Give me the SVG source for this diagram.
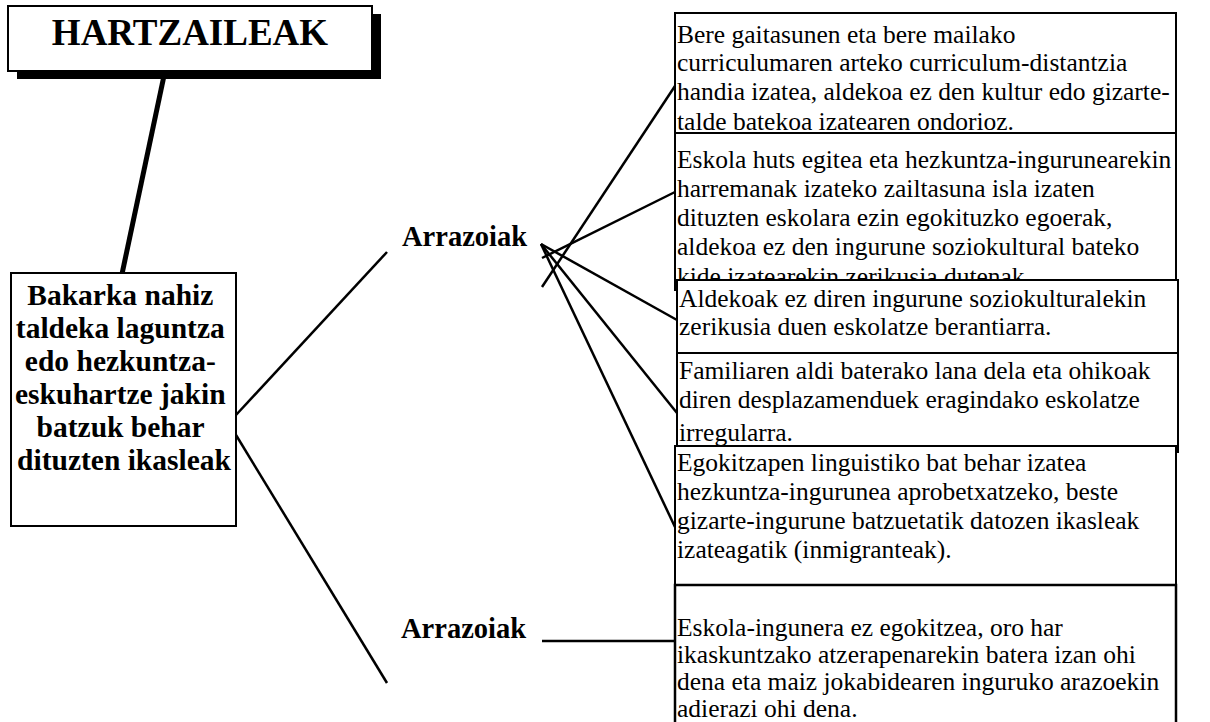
<svg xmlns="http://www.w3.org/2000/svg" width="1210" height="722" viewBox="0 0 1210 722">
<style>
.box{fill:#fff;stroke:#000;stroke-width:2}
.t{font-family:'Liberation Serif','Times New Roman',Times,serif;font-size:25.5px;fill:#000}
.b{font-family:'Liberation Serif','Times New Roman',Times,serif;font-weight:bold;fill:#000}
.ln{stroke:#000;stroke-width:2.5;fill:none}
</style>
<defs>
<clipPath id="c1"><rect x="675" y="13" width="501" height="119"/></clipPath>
<clipPath id="c2"><rect x="675" y="133" width="501" height="146"/></clipPath>
<clipPath id="c4"><rect x="677" y="353" width="501" height="92"/></clipPath>
</defs>
<rect width="1210" height="722" fill="#fff"/>
<g id="connectors">
<line class="ln" x1="165" y1="71" x2="122" y2="274" style="stroke-width:5"/>
<line class="ln" x1="236" y1="415" x2="387" y2="252"/>
<line class="ln" x1="236" y1="435" x2="387" y2="683"/>
<line class="ln" x1="542" y1="287" x2="675" y2="86"/>
<line class="ln" x1="542" y1="258" x2="675" y2="192"/>
<line class="ln" x1="541" y1="244" x2="677" y2="320"/>
<line class="ln" x1="541" y1="244" x2="677" y2="413"/>
<line class="ln" x1="541" y1="244" x2="675" y2="527"/>
<line class="ln" x1="542" y1="641" x2="675" y2="641"/>
</g>
<g id="hartzaileak">
<rect x="17" y="14" width="364" height="65" fill="#000"/>
<rect class="box" x="8" y="6" width="364" height="65"/>
<text class="b" x="190" y="45" font-size="37" text-anchor="middle">HARTZAILEAK</text>
</g>
<g id="ikasleak">
<rect class="box" x="11" y="273" width="225" height="253"/>
<text class="b" font-size="29.5" text-anchor="middle">
<tspan x="124" y="305">Bakarka nahiz</tspan>
<tspan x="124" y="338">taldeka laguntza</tspan>
<tspan x="124" y="371">edo hezkuntza-</tspan>
<tspan x="124" y="404">eskuhartze jakin</tspan>
<tspan x="124" y="437">batzuk behar</tspan>
<tspan x="124" y="470">dituzten ikasleak</tspan>
</text>
</g>
<g id="arrazoiak1">
<text class="b" x="402" y="246" font-size="28.5">Arrazoiak</text>
</g>
<g id="arrazoiak2">
<text class="b" x="401" y="638" font-size="28.5">Arrazoiak</text>
</g>
<g id="box1">
<rect class="box" x="675" y="13" width="501" height="127"/>
<text class="t" clip-path="url(#c1)"><tspan x="677" y="43">Bere gaitasunen eta bere mailako</tspan><tspan x="677" y="71">curriculumaren arteko curriculum-distantzia</tspan><tspan x="677" y="100">handia izatea, aldekoa ez den kultur edo gizarte-</tspan><tspan x="677" y="130">talde batekoa izatearen ondorioz.</tspan></text>
</g>
<g id="box2">
<rect class="box" x="675" y="133" width="501" height="157"/>
<text class="t" clip-path="url(#c2)"><tspan x="677" y="168">Eskola huts egitea eta hezkuntza-ingurunearekin</tspan><tspan x="677" y="197">harremanak izateko zailtasuna isla izaten</tspan><tspan x="677" y="226">dituzten eskolara ezin egokituzko egoerak,</tspan><tspan x="677" y="255">aldekoa ez den ingurune soziokultural bateko</tspan><tspan x="677" y="285">kide izatearekin zerikusia dutenak.</tspan></text>
</g>
<g id="box3">
<rect class="box" x="677" y="280" width="501" height="73"/>
<text class="t"><tspan x="679" y="307">Aldekoak ez diren ingurune soziokulturalekin</tspan><tspan x="679" y="335">zerikusia duen eskolatze berantiarra.</tspan></text>
</g>
<g id="box4">
<rect class="box" x="677" y="353" width="501" height="99"/>
<text class="t" clip-path="url(#c4)"><tspan x="679" y="379">Familiaren aldi baterako lana dela eta ohikoak</tspan><tspan x="679" y="408">diren desplazamenduek eragindako eskolatze</tspan><tspan x="679" y="441">irregularra.</tspan></text>
</g>
<g id="box5">
<rect class="box" x="675" y="446" width="501" height="139"/>
<text class="t"><tspan x="677" y="471">Egokitzapen linguistiko bat behar izatea</tspan><tspan x="677" y="500">hezkuntza-ingurunea aprobetxatzeko, beste</tspan><tspan x="677" y="529">gizarte-ingurune batzuetatik datozen ikasleak</tspan><tspan x="677" y="558">izateagatik (inmigranteak).</tspan></text>
</g>
<g id="box6">
<rect class="box" x="675" y="585" width="501" height="150" style="stroke-width:2.5"/>
<text class="t"><tspan x="677" y="636">Eskola-ingunera ez egokitzea, oro har</tspan><tspan x="677" y="663">ikaskuntzako atzerapenarekin batera izan ohi</tspan><tspan x="677" y="690">dena eta maiz jokabidearen inguruko arazoekin</tspan><tspan x="677" y="717">adierazi ohi dena.</tspan></text>
</g>
</svg>
